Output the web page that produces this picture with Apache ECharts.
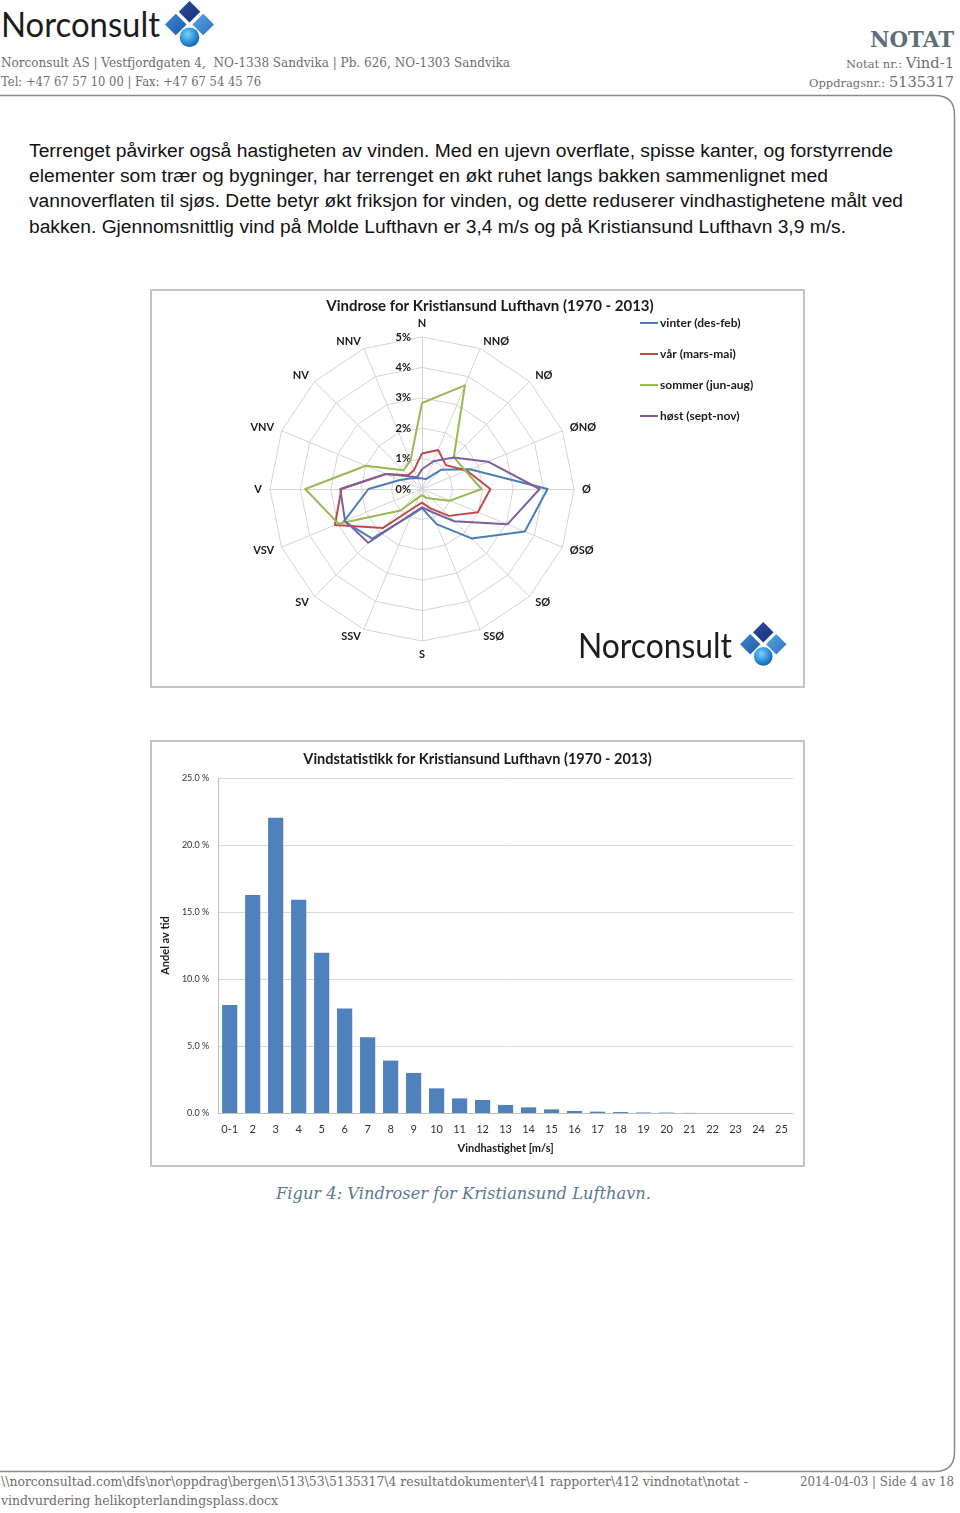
<!DOCTYPE html>
<html><head><meta charset="utf-8">
<script src="https://cdn.jsdelivr.net/npm/echarts@6/dist/echarts.min.js"></script>
<style>
html,body{margin:0;padding:0;background:#fff;}
body{width:960px;height:1513px;position:relative;overflow:hidden;}
.t{position:absolute;white-space:nowrap;transform-origin:0 50%;}
.box{position:absolute;border:2px solid #c4c4c4;box-sizing:border-box;background:#fff;}
.ch{position:absolute;}
</style></head><body>
<svg id="frame" width="960" height="1513" style="position:absolute;left:0;top:0">
  <path d="M0,95.5 H935 Q954.5,95.5 954.5,115 V1452 Q954.5,1471.5 935,1471.5 H0" fill="none" stroke="#8a8a8a" stroke-width="1.5"/>
</svg>
<div class="box" style="left:150px;top:289px;width:655px;height:399px"></div>
<div class="box" style="left:150px;top:740px;width:655px;height:427px"></div>
<div id="c1" class="ch" style="left:152px;top:291px;width:651px;height:395px"></div>
<div id="c2" class="ch" style="left:152px;top:742px;width:651px;height:423px"></div>
<script>
// ---------- DATA ----------
const directions = ['N','NNØ','NØ','ØNØ','Ø','ØSØ','SØ','SSØ','S','SSV','SV','VSV','V','VNV','NV','NNV'];
const radarTicks = [0,1,2,3,4,5];
const vinter = [0.35,0.35,0.9,1.7,4.13,3.66,2.3,1.25,0.63,0.93,2.31,2.78,1.76,0.78,0.5,0.39];
const vaar   = [1.17,1.39,1.11,1.59,2.25,1.99,1.25,0.68,0.45,0.65,1.81,3.1,2.65,1.28,0.64,0.68];
const sommer = [2.83,3.69,1.48,1.55,1.96,1.0,0.45,0.3,0.2,0.3,1.0,2.98,3.84,2.0,0.87,1.0];
const hoest  = [0.65,0.99,1.47,2.35,3.87,3.04,1.5,0.81,0.6,0.89,2.5,2.74,2.69,1.3,0.58,0.42];
const seasonNames = ['vinter (des-feb)','vår (mars-mai)','sommer (jun-aug)','høst (sept-nov)'];

const speedCats = ['0-1','2','3','4','5','6','7','8','9','10','11','12','13','14','15','16','17','18','19','20','21','22','23','24','25'];
const share = [8.06,16.27,22.04,15.92,11.96,7.79,5.65,3.91,2.99,1.84,1.09,0.97,0.6,0.42,0.27,0.15,0.1,0.07,0.04,0.03,0.01,0,0,0,0];
const shareTicks = [0,5,10,15,20,25];

// ---------- TEXT ----------
const SLAB = '"DejaVu Serif"';
const texts = [
 {h:'Norconsult', x1:1, x2:160, cy:24, f:'Lato', s:34, w:400, c:'#1c1c1c'},
 {h:'NOTAT', x1:870, x2:954, cy:38, f:SLAB, s:23, w:700, c:'#5e6e76'},
 {h:'Norconsult AS | Vestfjordgaten 4,&nbsp; NO-1338 Sandvika | Pb. 626, NO-1303 Sandvika', x1:1, x2:510, cy:63, f:SLAB, s:12.5, w:400, c:'#6e6e6e'},
 {h:'Tel: +47 67 57 10 00 | Fax: +47 67 54 45 76', x1:1, x2:261, cy:82, f:SLAB, s:12.5, w:400, c:'#6e6e6e'},
 {h:'<span style="font-size:11px">Notat nr.: </span>Vind-1', x1:846, x2:954, cy:63, f:SLAB, s:14, w:400, c:'#6e6e6e'},
 {h:'<span style="font-size:11px">Oppdragsnr.: </span>5135317', x1:809, x2:954, cy:82, f:SLAB, s:14, w:400, c:'#6e6e6e'},
 {h:'Terrenget påvirker også hastigheten av vinden. Med en ujevn overflate, spisse kanter, og forstyrrende', x1:29, x2:893, cy:151, f:'"Liberation Sans"', s:18, w:400, c:'#111'},
 {h:'elementer som trær og bygninger, har terrenget en økt ruhet langs bakken sammenlignet med', x1:29, x2:828, cy:176, f:'"Liberation Sans"', s:18, w:400, c:'#111'},
 {h:'vannoverflaten til sjøs. Dette betyr økt friksjon for vinden, og dette reduserer vindhastighetene målt ved', x1:29, x2:903, cy:201, f:'"Liberation Sans"', s:18, w:400, c:'#111'},
 {h:'bakken. Gjennomsnittlig vind på Molde Lufthavn er 3,4 m/s og på Kristiansund Lufthavn 3,9 m/s.', x1:29, x2:846, cy:227, f:'"Liberation Sans"', s:18, w:400, c:'#111'},
 {h:'Figur 4: Vindroser for Kristiansund Lufthavn.', x1:276, x2:651, cy:1194, f:SLAB, s:17.5, w:400, c:'#5b7893', i:true},
 {h:'\\\\norconsultad.com\\dfs\\nor\\oppdrag\\bergen\\513\\53\\5135317\\4 resultatdokumenter\\41 rapporter\\412 vindnotat\\notat -', x1:1, x2:748, cy:1482, f:SLAB, s:12.5, w:400, c:'#6e6e6e'},
 {h:'vindvurdering helikopterlandingsplass.docx', x1:1, x2:278, cy:1501, f:SLAB, s:12.5, w:400, c:'#6e6e6e'},
 {h:'2014-04-03 | Side 4 av 18', x1:800, x2:954, cy:1482, f:SLAB, s:12.5, w:400, c:'#6e6e6e'},
 {h:'Norconsult', x1:578, x2:732, cy:645, f:'Lato', s:34, w:400, c:'#1c1c1c', z:5}
];
texts.forEach(o=>{
  const d=document.createElement('div'); d.className='t'; d.innerHTML=o.h;
  d.style.font=(o.i?'italic ':'')+o.w+' '+o.s+'px '+o.f;
  d.style.lineHeight=o.s+'px'; d.style.color=o.c;
  d.style.left=o.x1+'px'; d.style.top=(o.cy-o.s/2)+'px';
  if(o.z) d.style.zIndex=o.z;
  document.body.appendChild(d);
  const w=d.getBoundingClientRect().width;
  d.style.transform='scaleX('+((o.x2-o.x1)/w)+')';
});

// logos (diamonds + sphere)
function logo(x,y,s){
  const ns='http://www.w3.org/2000/svg';
  const svg=document.createElementNS(ns,'svg');
  svg.setAttribute('width',50*s); svg.setAttribute('height',48*s);
  svg.setAttribute('viewBox','0 0 50 48');
  svg.style.cssText='position:absolute;left:'+x+'px;top:'+y+'px;z-index:6';
  svg.innerHTML='<defs><radialGradient id="g'+x+'" cx="0.4" cy="0.35" r="0.7"><stop offset="0" stop-color="#7fd0f7"/><stop offset="0.6" stop-color="#2a8fd8"/><stop offset="1" stop-color="#15599f"/></radialGradient>'+
  '<linearGradient id="a'+x+'" x1="0" y1="0" x2="1" y2="1"><stop offset="0" stop-color="#2d4f9e"/><stop offset="1" stop-color="#162f78"/></linearGradient>'+
  '<linearGradient id="b'+x+'" x1="0" y1="0" x2="1" y2="1"><stop offset="0" stop-color="#3f86cf"/><stop offset="1" stop-color="#1e5aa8"/></linearGradient>'+
  '<linearGradient id="c'+x+'" x1="0" y1="0" x2="1" y2="1"><stop offset="0" stop-color="#5aa4e0"/><stop offset="1" stop-color="#2d72bf"/></linearGradient></defs>'+
  '<path d="M25,0 L36,11 L25,22 L14,11 Z" fill="url(#a'+x+')"/>'+
  '<path d="M11,13 L22,24 L11,35 L0,24 Z" fill="url(#b'+x+')"/>'+
  '<path d="M39,13 L50,24 L39,35 L28,24 Z" fill="url(#c'+x+')"/>'+
  '<circle cx="25" cy="37" r="10" fill="url(#g'+x+')"/>';
  document.body.appendChild(svg);
}
logo(165,1,0.98);
logo(740,622,0.93);

// ---------- CHART 1: radar ----------
const F='Lato';
const order=[0]; for(let i=15;i>=1;i--) order.push(i); // counter-clockwise layout order
const ro=a=>order.map(i=>a[i]);
const colors=['#4a7ebb','#be4b48','#98b954','#7d60a0'];
const seasons=[vinter,vaar,sommer,hoest];
const c1=echarts.init(document.getElementById('c1'));
c1.setOption({
  animation:false,
  title:{text:'Vindrose for Kristiansund Lufthavn (1970 - 2013)',left:333,top:3,textAlign:'center',
    textStyle:{fontFamily:F,fontSize:15,fontWeight:'bold',color:'#1a1a1a'}},
  legend:{orient:'vertical',left:488,top:26,padding:0,itemGap:19,itemWidth:18,itemHeight:2,icon:'rect',
    data:seasonNames, textStyle:{fontFamily:F,fontSize:12,fontWeight:'bold',color:'#1a1a1a',padding:[0,0,0,-3]}},
  radar:{
    center:[270,198], radius:152, startAngle:90, splitNumber:5, shape:'polygon',
    indicator: order.map((i,k)=>{const o={name:directions[i],min:radarTicks[0],max:radarTicks[radarTicks.length-1]}; if(k===0) o.axisLabel={show:true}; return o;}),
    nameGap:8,
    axisName:{color:'#1a1a1a',fontFamily:F,fontSize:11,fontWeight:'bold'},
    splitLine:{lineStyle:{color:'#d4d4d4',width:1}},
    splitArea:{show:false},
    axisLine:{lineStyle:{color:'#d4d4d4',width:1}},
    axisTick:{show:false},
    axisLabel:{show:false,formatter:v=>v+'%',fontFamily:F,fontSize:11,fontWeight:'bold',color:'#1a1a1a',margin:11}
  },
  series:[{type:'radar',symbol:'none',
    data: seasons.map((s,k)=>({name:seasonNames[k],value:ro(s),
      lineStyle:{color:colors[k],width:2},itemStyle:{color:colors[k]}}))}]
});

// ---------- CHART 2: bars ----------
const c2=echarts.init(document.getElementById('c2'));
c2.setOption({
  animation:false,
  title:{text:'Vindstatistikk for Kristiansund Lufthavn (1970 - 2013)',left:'center',top:5,
    textStyle:{fontFamily:F,fontSize:14.5,fontWeight:'bold',color:'#1a1a1a'}},
  grid:{left:66,right:10,top:36,bottom:52},
  xAxis:{type:'category',data:speedCats,
    name:'Vindhastighet [m/s]',nameLocation:'middle',nameGap:30,
    nameTextStyle:{fontFamily:F,fontSize:11,fontWeight:'bold',color:'#1a1a1a'},
    axisLine:{lineStyle:{color:'#bfbfbf'}},axisTick:{show:false},
    axisLabel:{fontFamily:F,fontSize:11,color:'#333',margin:11,interval:0}},
  yAxis:{type:'value',min:shareTicks[0],max:shareTicks[shareTicks.length-1],interval:5,
    name:'Andel av tid',nameLocation:'middle',nameGap:44,
    nameTextStyle:{fontFamily:F,fontSize:11,fontWeight:'bold',color:'#1a1a1a'},
    axisLine:{show:true,lineStyle:{color:'#bfbfbf'}},axisTick:{show:false},
    splitLine:{lineStyle:{color:'#d9d9d9'}},
    axisLabel:{formatter:v=>v.toFixed(1)+' %',fontFamily:F,fontSize:9,color:'#333',margin:9}},
  series:[{type:'bar',data:share,barCategoryGap:'34%',itemStyle:{color:'#4f81bd'}}]
});
</script>
</body></html>
